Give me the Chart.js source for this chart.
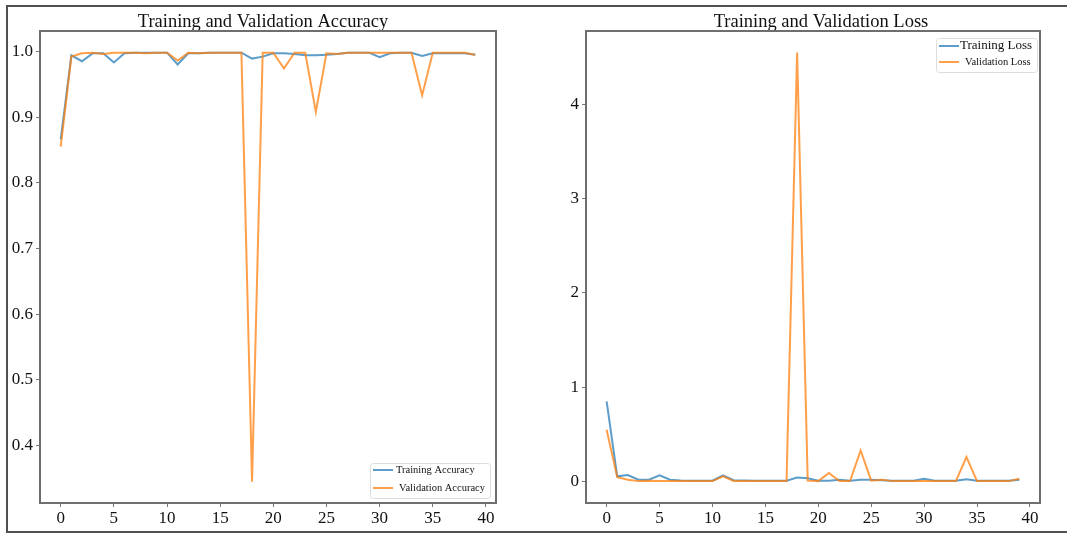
<!DOCTYPE html>
<html>
<head>
<meta charset="utf-8">
<script src="https://cdn.jsdelivr.net/npm/chart.js@4.4.1/dist/chart.umd.min.js"></script>
<style>
  body { margin: 0; background: #fff; width: 1067px; height: 533px; overflow: hidden; position: relative; }
  #frame { position: absolute; left: 6px; top: 5px; width: 1100px; height: 524px; border: 2px solid #505050; }
  #accBox { position: absolute; left: 0; top: 0; width: 536px; height: 533px; }
  #lossBox { position: absolute; left: 559px; top: 0; width: 508px; height: 533px; }
</style>
</head>
<body>
<div id="frame"></div>
<div id="accBox"><canvas id="accChart"></canvas></div>
<div id="lossBox"><canvas id="lossChart"></canvas></div>
<script>
var epochs = [0,1,2,3,4,5,6,7,8,9,10,11,12,13,14,15,16,17,18,19,20,21,22,23,24,25,26,27,28,29,30,31,32,33,34,35,36,37,38,39];

var trainAcc = [0.866,0.994,0.985,0.997,0.997,0.983,0.997,0.998,0.998,0.998,
                0.998,0.980,0.997,0.997,0.998,0.998,0.998,0.998,0.989,0.992,
                0.997,0.997,0.996,0.994,0.994,0.995,0.996,0.998,0.998,0.998,
                0.991,0.997,0.998,0.998,0.993,0.997,0.997,0.997,0.997,0.995];
var valAcc = [0.855,0.992,0.997,0.998,0.996,0.998,0.998,0.998,0.997,0.998,
              0.998,0.986,0.998,0.997,0.998,0.998,0.998,0.998,0.345,0.998,
              0.998,0.974,0.998,0.998,0.908,0.997,0.996,0.998,0.998,0.998,
              0.998,0.998,0.998,0.998,0.933,0.998,0.998,0.998,0.998,0.995];

var trainLoss = [0.85,0.056,0.07,0.02,0.02,0.067,0.02,0.012,0.01,0.01,
                 0.01,0.067,0.015,0.012,0.01,0.01,0.01,0.01,0.042,0.035,
                 0.01,0.008,0.02,0.01,0.02,0.02,0.015,0.01,0.01,0.01,
                 0.03,0.01,0.008,0.008,0.025,0.01,0.01,0.01,0.008,0.02];
var valLoss = [0.55,0.046,0.02,0.005,0.008,0.005,0.006,0.005,0.005,0.005,
               0.005,0.056,0.006,0.005,0.005,0.005,0.005,0.005,4.55,0.01,
               0.005,0.092,0.005,0.005,0.33,0.01,0.02,0.005,0.005,0.005,
               0.005,0.005,0.005,0.005,0.26,0.005,0.005,0.005,0.005,0.03];

var accTicks = [0.4,0.5,0.6,0.7,0.8,0.9,1.0];
var lossTicks = [0,1,2,3,4];
var xTicks = [0,5,10,15,20,25,30,35,40];

var blue = 'rgba(31,119,180,0.72)';
var orange = 'rgba(255,127,14,0.75)';

Chart.defaults.font.family = '"Liberation Serif", "DejaVu Serif", serif';
Chart.defaults.color = '#111';
Chart.defaults.animation = false;

// title, box around plot area and legend inside it
var boxPlugin = {
  id: 'boxLegend',
  afterDraw: function(chart, args, opts) {
    var c = chart.ctx, a = chart.chartArea;
    c.save();
    c.fillStyle = '#111';
    c.font = '18.5px "Liberation Serif"';
    c.textAlign = 'center';
    c.textBaseline = 'alphabetic';
    c.fillText(opts.title, opts.titleX, 27);
    c.textAlign = 'left';

    c.strokeStyle = '#6e6e6e';
    c.lineWidth = 2;
    c.strokeRect(a.left, a.top, a.right - a.left, a.bottom - a.top);

    var w = opts.w, h = opts.h;
    var x = a.right - opts.right - w;
    var y = opts.top != null ? a.top + opts.top : a.bottom - opts.bottom - h;
    c.fillStyle = 'rgba(255,255,255,0.8)';
    c.strokeStyle = '#dddddd';
    c.lineWidth = 1;
    c.beginPath();
    c.roundRect(x + 0.5, y + 0.5, w, h, 3);
    c.fill();
    c.stroke();

    chart.data.datasets.forEach(function(ds, i) {
      var it = opts.items[i];
      var ly = y + it.dy;
      c.strokeStyle = ds.borderColor;
      c.lineWidth = 2;
      c.beginPath();
      c.moveTo(x + 3, ly);
      c.lineTo(x + 23, ly);
      c.stroke();
      c.fillStyle = '#111';
      c.font = it.size + 'px "Liberation Serif"';
      c.textBaseline = 'middle';
      c.fillText(ds.label, x + it.tx, ly);
    });
    c.restore();
  }
};

function makeChart(id, trainVals, valVals, names, yMin, yMax, yTicks, yFmt, yWidth, padRight, legendOpts) {
  return new Chart(document.getElementById(id), {
    type: 'line',
    data: {
      labels: epochs,
      datasets: [
        { label: names[0], data: trainVals, borderColor: blue, borderWidth: 2, pointRadius: 0, tension: 0, order: 2 },
        { label: names[1], data: valVals, borderColor: orange, borderWidth: 2, pointRadius: 0, tension: 0, order: 1 }
      ]
    },
    options: {
      responsive: true,
      maintainAspectRatio: false,
      layout: { padding: { left: 0, right: padRight, top: 31, bottom: 0 } },
      plugins: {
        legend: { display: false },
        tooltip: { enabled: false },
        title: { display: false },
        boxLegend: legendOpts
      },
      scales: {
        x: {
          type: 'linear',
          min: -1.95,
          max: 40.95,
          afterBuildTicks: function(s) { s.ticks = xTicks.map(function(v) { return { value: v }; }); },
          afterFit: function(s) { s.height = 30; },
          border: { display: false },
          grid: { drawOnChartArea: false, drawTicks: true, tickLength: 4, tickColor: '#777' },
          ticks: { font: { size: 17 }, color: '#111', padding: 1, maxRotation: 0, autoSkip: false }
        },
        y: {
          min: yMin,
          max: yMax,
          afterBuildTicks: function(s) { s.ticks = yTicks.map(function(v) { return { value: v }; }); },
          afterFit: function(s) { s.width = yWidth; },
          border: { display: false },
          grid: { drawOnChartArea: false, drawTicks: true, tickLength: 4, tickColor: '#777' },
          ticks: { font: { size: 17 }, color: '#111', padding: 3, callback: yFmt }
        }
      }
    },
    plugins: [boxPlugin]
  });
}

makeChart('accChart', trainAcc, valAcc, ['Training Accuracy', 'Validation Accuracy'],
  0.3126, 1.031, accTicks, function(v) { return v.toFixed(1); }, 40, 40,
  { title: 'Training and Validation Accuracy', titleX: 263,
    w: 120, h: 35, right: 6, bottom: 5, items: [ { dy: 7, tx: 26, size: 10.5 }, { dy: 25, tx: 29, size: 10.5 } ] });

makeChart('lossChart', trainLoss, valLoss, ['Training Loss', 'Validation Loss'],
  -0.227, 4.777, lossTicks, function(v) { return String(v); }, 27, 27,
  { title: 'Training and Validation Loss', titleX: 262,
    w: 101, h: 34, right: 3, top: 7, items: [ { dy: 8, tx: 24, size: 13 }, { dy: 24, tx: 29, size: 10.5 } ] });
</script>
</body>
</html>
